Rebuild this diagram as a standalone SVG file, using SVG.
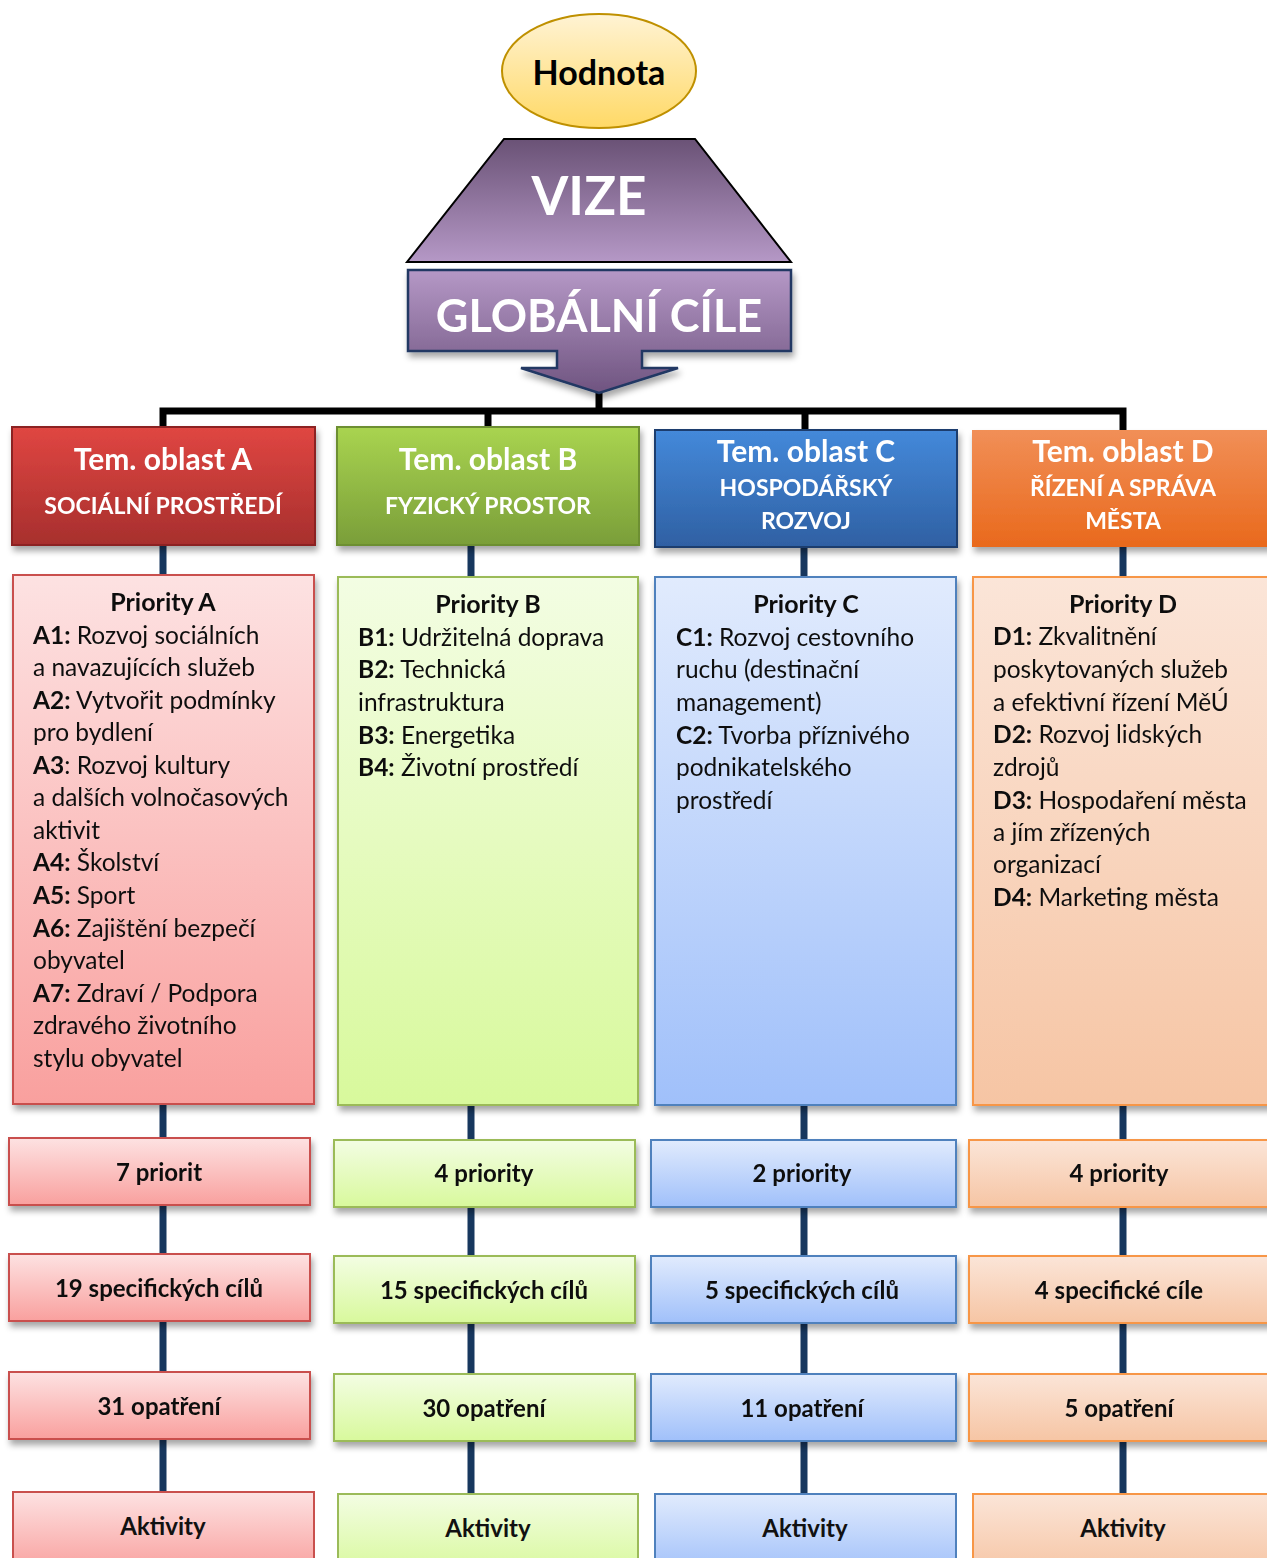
<svg xmlns="http://www.w3.org/2000/svg" width="1267" height="1558" viewBox="0 0 1267 1558">
<defs>
<linearGradient id="gY" x1="0" y1="0" x2="0" y2="1"><stop offset="0" stop-color="#fff3d4"/><stop offset="1" stop-color="#ffd966"/></linearGradient>
<linearGradient id="gV" x1="0" y1="0" x2="0" y2="1"><stop offset="0" stop-color="#6a5276"/><stop offset="1" stop-color="#b598c6"/></linearGradient>
<linearGradient id="gG" x1="0" y1="0" x2="0" y2="1"><stop offset="0" stop-color="#b598c6"/><stop offset="1" stop-color="#6f5480"/></linearGradient>
<linearGradient id="hA" x1="0" y1="0" x2="0" y2="1"><stop offset="0" stop-color="#e04642"/><stop offset="1" stop-color="#a72f2d"/></linearGradient>
<linearGradient id="hB" x1="0" y1="0" x2="0" y2="1"><stop offset="0" stop-color="#a9d450"/><stop offset="1" stop-color="#7a9e39"/></linearGradient>
<linearGradient id="hC" x1="0" y1="0" x2="0" y2="1"><stop offset="0" stop-color="#4489da"/><stop offset="1" stop-color="#2f60a3"/></linearGradient>
<linearGradient id="hD" x1="0" y1="0" x2="0" y2="1"><stop offset="0" stop-color="#f18f57"/><stop offset="1" stop-color="#e9691c"/></linearGradient>
<linearGradient id="lA" x1="0" y1="0" x2="0" y2="1"><stop offset="0" stop-color="#fde2e2"/><stop offset="1" stop-color="#f9a09e"/></linearGradient>
<linearGradient id="lB" x1="0" y1="0" x2="0" y2="1"><stop offset="0" stop-color="#f3fde3"/><stop offset="1" stop-color="#d8f99c"/></linearGradient>
<linearGradient id="lC" x1="0" y1="0" x2="0" y2="1"><stop offset="0" stop-color="#e1ebfd"/><stop offset="1" stop-color="#a0c0fa"/></linearGradient>
<linearGradient id="lD" x1="0" y1="0" x2="0" y2="1"><stop offset="0" stop-color="#fbe5d8"/><stop offset="1" stop-color="#f6c5a4"/></linearGradient>
<filter id="sh" x="-10%" y="-10%" width="125%" height="130%"><feDropShadow dx="2" dy="5" stdDeviation="3" flood-color="#000" flood-opacity="0.35"/></filter>
</defs>
<style>
text{font-family:Lato,"Open Sans","Liberation Sans",sans-serif;}
.h1{font-size:30px;font-weight:bold;fill:#fff;text-anchor:middle;}
.h2{font-size:23px;font-weight:bold;fill:#fff;text-anchor:middle;}
.pt{font-size:24.5px;fill:#111;}
.ptc{font-size:25px;fill:#111;font-weight:bold;text-anchor:middle;}
.b{font-weight:bold;}
.sm{font-size:24px;font-weight:bold;fill:#111;text-anchor:middle;}
.sA{stroke:#c9504d;stroke-width:2;}
.sB{stroke:#9bbb59;stroke-width:2;}
.sC{stroke:#4f81bd;stroke-width:2;}
.sD{stroke:#f79646;stroke-width:2;}
.bus{stroke:#000;stroke-width:7;fill:none;}
.lk{stroke:#17375e;stroke-width:7;fill:none;}
</style>
<g id="connectors">
<path class="bus" d="M599,392 V411 M163,430 V411 H1123 V432 M488,411 V430 M805,411 V432"/>
<path class="lk" d="M163,545 V1494 M471,545 V1496 M804,547 V1496 M1123,547 V1496"/>
</g>
<g id="hodnota">
<ellipse cx="599" cy="71" rx="97" ry="57" fill="url(#gY)" stroke="#bf9000" stroke-width="2"/>
<text x="599" y="85" text-anchor="middle" font-size="34" font-weight="bold" fill="#000">Hodnota</text>
</g>
<g id="vize">
<path d="M504,139 H695 L791,262 H407 Z" fill="url(#gV)" stroke="#000" stroke-width="2"/>
<text x="589" y="215" text-anchor="middle" font-size="53" font-weight="bold" fill="#fff">VIZE</text>
</g>
<g id="globalni-cile" filter="url(#sh)">
<path d="M408,270 H791 V351 H642 V368 H678 L599,393 L521,368 H557 V351 H408 Z" fill="url(#gG)" stroke="#203864" stroke-width="2.5"/>
<text x="599" y="332" text-anchor="middle" font-size="45" font-weight="bold" fill="#fff">GLOBÁLNÍ CÍLE</text>
</g>
<g id="oblast-A" filter="url(#sh)">
<rect x="12" y="427" width="303" height="118" fill="url(#hA)" stroke="#8c2220" stroke-width="2"/>
<text class="h1" x="163" y="470">Tem. oblast A</text>
<text class="h2" x="163" y="514">SOCIÁLNÍ PROSTŘEDÍ</text>
</g>
<g id="oblast-B" filter="url(#sh)">
<rect x="337" y="427" width="302" height="118" fill="url(#hB)" stroke="#6d8f32" stroke-width="2"/>
<text class="h1" x="488" y="470">Tem. oblast B</text>
<text class="h2" x="488" y="514">FYZICKÝ PROSTOR</text>
</g>
<g id="oblast-C" filter="url(#sh)">
<rect x="655" y="430" width="302" height="117" fill="url(#hC)" stroke="#1f3d6e" stroke-width="2"/>
<text class="h1" x="806" y="462">Tem. oblast C</text>
<text class="h2" x="806" y="496">HOSPODÁŘSKÝ</text>
<text class="h2" x="806" y="529">ROZVOJ</text>
</g>
<g id="oblast-D" filter="url(#sh)">
<rect x="972" y="430" width="300" height="117" fill="url(#hD)"/>
<text class="h1" x="1123" y="462">Tem. oblast D</text>
<text class="h2" x="1123" y="496">ŘÍZENÍ A SPRÁVA</text>
<text class="h2" x="1123" y="529">MĚSTA</text>
</g>
<g id="priority-A" filter="url(#sh)">
<rect class="sA" x="13" y="575" width="301" height="529" fill="url(#lA)"/>
<text class="ptc" x="163" y="611">Priority A</text>
<text class="pt" x="33" y="644"><tspan class="b">A1:</tspan> Rozvoj sociálních</text>
<text class="pt" x="33" y="676">a navazujících služeb</text>
<text class="pt" x="33" y="709"><tspan class="b">A2:</tspan> Vytvořit podmínky</text>
<text class="pt" x="33" y="741">pro bydlení</text>
<text class="pt" x="33" y="774"><tspan class="b">A3</tspan>: Rozvoj kultury</text>
<text class="pt" x="33" y="806">a dalších volnočasových</text>
<text class="pt" x="33" y="839">aktivit</text>
<text class="pt" x="33" y="871"><tspan class="b">A4:</tspan> Školství</text>
<text class="pt" x="33" y="904"><tspan class="b">A5:</tspan> Sport</text>
<text class="pt" x="33" y="937"><tspan class="b">A6:</tspan> Zajištění bezpečí</text>
<text class="pt" x="33" y="969">obyvatel</text>
<text class="pt" x="33" y="1002"><tspan class="b">A7:</tspan> Zdraví / Podpora</text>
<text class="pt" x="33" y="1034">zdravého životního</text>
<text class="pt" x="33" y="1067">stylu obyvatel</text>
</g>
<g id="priority-B" filter="url(#sh)">
<rect class="sB" x="338" y="577" width="300" height="528" fill="url(#lB)"/>
<text class="ptc" x="488" y="613">Priority B</text>
<text class="pt" x="358" y="646"><tspan class="b">B1:</tspan> Udržitelná doprava</text>
<text class="pt" x="358" y="678"><tspan class="b">B2:</tspan> Technická</text>
<text class="pt" x="358" y="711">infrastruktura</text>
<text class="pt" x="358" y="744"><tspan class="b">B3:</tspan> Energetika</text>
<text class="pt" x="358" y="776"><tspan class="b">B4:</tspan> Životní prostředí</text>
</g>
<g id="priority-C" filter="url(#sh)">
<rect class="sC" x="655" y="577" width="301" height="528" fill="url(#lC)"/>
<text class="ptc" x="806" y="613">Priority C</text>
<text class="pt" x="676" y="646"><tspan class="b">C1:</tspan> Rozvoj cestovního</text>
<text class="pt" x="676" y="678">ruchu (destinační</text>
<text class="pt" x="676" y="711">management)</text>
<text class="pt" x="676" y="744"><tspan class="b">C2:</tspan> Tvorba příznivého</text>
<text class="pt" x="676" y="776">podnikatelského</text>
<text class="pt" x="676" y="809">prostředí</text>
</g>
<g id="priority-D" filter="url(#sh)">
<rect class="sD" x="973" y="577" width="300" height="528" fill="url(#lD)"/>
<text class="ptc" x="1123" y="613">Priority D</text>
<text class="pt" x="993" y="645"><tspan class="b">D1:</tspan> Zkvalitnění</text>
<text class="pt" x="993" y="678">poskytovaných služeb</text>
<text class="pt" x="993" y="711">a efektivní řízení MěÚ</text>
<text class="pt" x="993" y="743"><tspan class="b">D2:</tspan> Rozvoj lidských</text>
<text class="pt" x="993" y="776">zdrojů</text>
<text class="pt" x="993" y="809"><tspan class="b">D3:</tspan> Hospodaření města</text>
<text class="pt" x="993" y="841">a jím zřízených</text>
<text class="pt" x="993" y="873">organizací</text>
<text class="pt" x="993" y="906"><tspan class="b">D4:</tspan> Marketing města</text>
</g>
<g id="A-priorit" filter="url(#sh)"><rect class="sA" x="9" y="1138" width="301" height="67" fill="url(#lA)"/><text class="sm" x="159" y="1181">7 priorit</text></g>
<g id="B-priorit" filter="url(#sh)"><rect class="sB" x="334" y="1140" width="301" height="67" fill="url(#lB)"/><text class="sm" x="484" y="1182">4 priority</text></g>
<g id="C-priorit" filter="url(#sh)"><rect class="sC" x="651" y="1140" width="305" height="67" fill="url(#lC)"/><text class="sm" x="802" y="1182">2 priority</text></g>
<g id="D-priorit" filter="url(#sh)"><rect class="sD" x="969" y="1140" width="304" height="67" fill="url(#lD)"/><text class="sm" x="1119" y="1182">4 priority</text></g>
<g id="A-cile" filter="url(#sh)"><rect class="sA" x="9" y="1254" width="301" height="67" fill="url(#lA)"/><text class="sm" x="159" y="1297">19 specifických cílů</text></g>
<g id="B-cile" filter="url(#sh)"><rect class="sB" x="334" y="1256" width="301" height="67" fill="url(#lB)"/><text class="sm" x="484" y="1299">15 specifických cílů</text></g>
<g id="C-cile" filter="url(#sh)"><rect class="sC" x="651" y="1256" width="305" height="67" fill="url(#lC)"/><text class="sm" x="802" y="1299">5 specifických cílů</text></g>
<g id="D-cile" filter="url(#sh)"><rect class="sD" x="969" y="1256" width="304" height="67" fill="url(#lD)"/><text class="sm" x="1119" y="1299">4 specifické cíle</text></g>
<g id="A-opatreni" filter="url(#sh)"><rect class="sA" x="9" y="1372" width="301" height="67" fill="url(#lA)"/><text class="sm" x="159" y="1415">31 opatření</text></g>
<g id="B-opatreni" filter="url(#sh)"><rect class="sB" x="334" y="1374" width="301" height="67" fill="url(#lB)"/><text class="sm" x="484" y="1417">30 opatření</text></g>
<g id="C-opatreni" filter="url(#sh)"><rect class="sC" x="651" y="1374" width="305" height="67" fill="url(#lC)"/><text class="sm" x="802" y="1417">11 opatření</text></g>
<g id="D-opatreni" filter="url(#sh)"><rect class="sD" x="969" y="1374" width="304" height="67" fill="url(#lD)"/><text class="sm" x="1119" y="1417">5 opatření</text></g>
<g id="A-aktivity"><rect class="sA" x="13" y="1492" width="301" height="80" fill="url(#lA)"/><text class="sm" x="163" y="1535">Aktivity</text></g>
<g id="B-aktivity"><rect class="sB" x="338" y="1494" width="300" height="80" fill="url(#lB)"/><text class="sm" x="488" y="1537">Aktivity</text></g>
<g id="C-aktivity"><rect class="sC" x="655" y="1494" width="301" height="80" fill="url(#lC)"/><text class="sm" x="805" y="1537">Aktivity</text></g>
<g id="D-aktivity"><rect class="sD" x="973" y="1494" width="300" height="80" fill="url(#lD)"/><text class="sm" x="1123" y="1537">Aktivity</text></g>
</svg>
